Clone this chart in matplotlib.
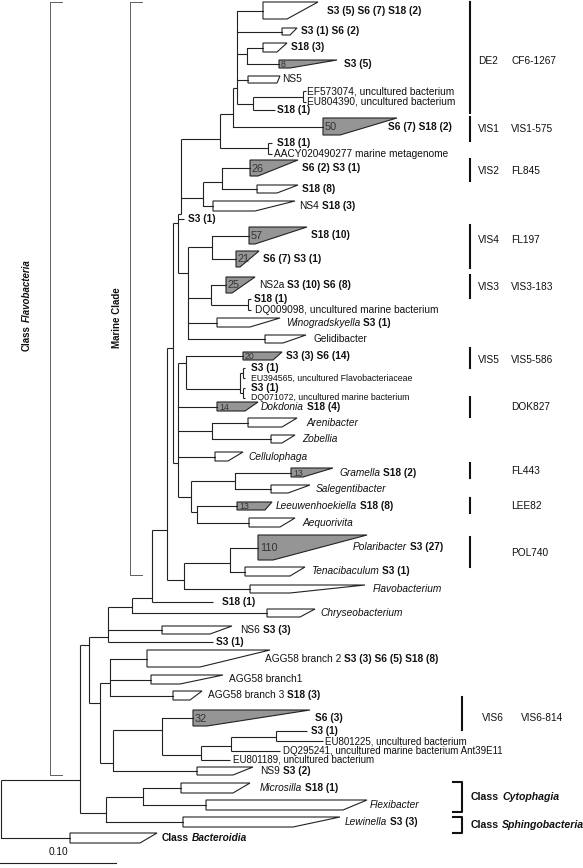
import matplotlib
matplotlib.use('Agg')
import matplotlib.pyplot as plt
from matplotlib.collections import LineCollection
from matplotlib.patches import Polygon
from collections import defaultdict

plt.rcParams['font.family'] = ['Liberation Sans', 'DejaVu Sans']

# --- tree data (depth in px from root, 116 px = 0.10 substitutions/site) ---
# internal nodes: name, parent, depth, stem y
inner_nodes = [
    ("root", None, 1, 780), ("IN", "root", 80, 780),
    ("FL", "IN", 89, 645), ("CS", "IN", 106, 813), ("n143", "CS", 143, 797),
    ("n108", "FL", 108, 637), ("n100", "FL", 100, 703),
    ("n132", "n108", 132, 607), ("n152", "n132", 152, 598),
    ("n167", "n152", 167, 530), ("n173", "n167", 173, 348),
    ("n184", "n167", 184, 580), ("n230", "n184", 230, 563),
    ("nX", "n173", 178, 223), ("nB", "n173", 178, 463),
    ("nA", "nX", 181, 214), ("nC", "nX", 188, 273),
    ("n220", "nA", 220, 139), ("n203", "nA", 203, 198),
    ("n234", "n220", 233, 114), ("n268", "n220", 268, 148),
    ("n237", "n234", 237, 88), ("n246", "n237", 247, 54),
    ("n253", "n237", 253, 104), ("n303", "n253", 303, 97),
    ("n222", "n203", 222, 182),
    ("n212", "nC", 212, 247), ("n211", "nC", 211, 298), ("n248", "n211", 248, 305),
    ("n186", "nB", 186, 363), ("n240", "n186", 240, 389),
    ("n240a", "n240", 243, 373), ("n240b", "n240", 243, 393),
    ("n212b", "nB", 212, 431), ("n191", "nB", 191, 497),
    ("n235", "n191", 235, 481), ("n197", "n191", 197, 512),
    ("nAGG", "n100", 110, 683), ("n113", "n100", 113, 763),
    ("n162", "n113", 162, 730), ("n201", "n162", 201, 755),
    ("n231", "n201", 231, 746), ("n276", "n231", 276, 737),
]

# single sequences: name, parent, tip depth, y, label, label x
tips = [
    ("S18a", "n253", 275, 110, "b:S18 (1)", 277),
    ("EF573074", "n303", 306, 91, "EF573074, uncultured bacterium", 307),
    ("EU804390", "n303", 306, 102, "EU804390, uncultured bacterium", 307),
    ("S18b", "n268", 272, 143, "b:S18 (1)", 277),
    ("AACY", "n268", 272, 154, "AACY020490277 marine metagenome", 274),
    ("S3a", "nX", 184, 219, "b:S3 (1)", 188),
    ("S18c", "n248", 251, 299, "b:S18 (1)", 254),
    ("DQ009098", "n248", 251, 310, "DQ009098, uncultured marine bacterium", 255),
    ("S3b", "n240a", 245, 368, "b:S3 (1)", 251),
    ("EU394565", "n240a", 245, 378, "EU394565, uncultured Flavobacteriaceae", 251),
    ("S3c", "n240b", 245, 388, "b:S3 (1)", 251),
    ("DQ071072", "n240b", 245, 398, "DQ071072, uncultured marine bacterium", 251),
    ("S18d", "n152", 213, 602, "b:S18 (1)", 222),
    ("S3d", "n108", 213, 642, "b:S3 (1)", 216),
    ("S3e", "n276", 307, 731, "b:S3 (1)", 311),
    ("EU801225", "n276", 323, 741, "EU801225, uncultured bacterium", 325),
    ("DQ295241", "n231", 280, 751, "DQ295241, uncultured marine bacterium Ant39E11", 283),
    ("EU801189", "n201", 230, 760, "EU801189, uncultured bacterium", 233),
]
small_tips = ["EU394565", "DQ071072"]

# collapsed groups: name, parent, x0, y top, y bottom, longest, shortest, count (gray if set), label, label x
clades = [
    ("A1", "n237", 263, 2, 19, 318, 287, "", "b:S3 (5) S6 (7) S18 (2)", 327),
    ("B", "n237", 282, 28, 35, 297, 290, "", "b:S3 (1) S6 (2)", 301),
    ("C", "n246", 263, 43, 52, 287, 277, "", "b:S18 (3)", 291),
    ("D8", "n246", 279, 60, 68, 337, 290, "8", "b:S3 (5)", 344),
    ("NS5", "n237", 248, 76, 83, 280, 277, "", "NS5", 282),
    ("G50", "n234", 323, 118, 135, 397, 340, "50", "b:S6 (7) S18 (2)", 388),
    ("G26", "n222", 250, 160, 176, 298, 258, "26", "b:S6 (2) S3 (1)", 302),
    ("S18_8", "n222", 257, 185, 193, 298, 277, "", "b:S18 (8)", 302),
    ("NS4", "n203", 213, 201, 211, 295, 255, "", "NS4|b:S18 (3)", 299),
    ("G57", "n212", 249, 227, 244, 307, 255, "57", "b:S18 (10)", 311),
    ("G21", "n212", 236, 251, 267, 259, 240, "21", "b:S6 (7) S3 (1)", 263),
    ("G25", "n211", 226, 277, 293, 255, 232, "25", "NS2a|b:S3 (10) S6 (8)", 259),
    ("Wino", "nC", 217, 318, 327, 280, 250, "", "i:Winogradskyella|b:S3 (1)", 286),
    ("Geli", "nC", 265, 335, 343, 306, 283, "", "Gelidibacter", 313),
    ("G20", "n186", 243, 352, 360, 282, 273, "20", "b:S3 (3) S6 (14)", 286),
    ("G14", "nB", 217, 402, 411, 258, 245, "14", "i:Dokdonia|b:S18 (4)", 261),
    ("Aren", "n212b", 248, 418, 427, 297, 282, "", "i:Arenibacter", 306),
    ("Zobe", "n212b", 271, 435, 443, 295, 282, "", "i:Zobellia", 302),
    ("Cellu", "nB", 215, 452, 461, 243, 228, "", "i:Cellulophaga", 248),
    ("Gram", "n235", 291, 468, 477, 333, 303, "13", "i:Gramella|b:S18 (2)", 339),
    ("Sale", "n235", 271, 485, 493, 310, 288, "", "i:Salegentibacter", 316),
    ("Leeu", "n197", 237, 502, 510, 272, 265, "13", "i:Leeuwenhoekiella|b:S18 (8)", 276),
    ("Aequ", "n197", 249, 518, 527, 295, 280, "", "i:Aequorivita", 302),
    ("Polar", "n230", 258, 535, 560, 367, 273, "110", "i:Polaribacter|b:S3 (27)", 353),
    ("Tenac", "n230", 245, 567, 576, 305, 290, "", "i:Tenacibaculum|b:S3 (1)", 311),
    ("Flavob", "n184", 250, 585, 593, 365, 290, "", "i:Flavobacterium", 373),
    ("Chryse", "n132", 267, 609, 617, 315, 300, "", "i:Chryseobacterium", 320),
    ("NS6", "n108", 162, 626, 634, 232, 210, "", "NS6|b:S3 (3)", 240),
    ("AGG2", "nAGG", 147, 650, 667, 270, 200, "", "AGG58 branch 2|b:S3 (3) S6 (5) S18 (8)", 265),
    ("AGG1", "nAGG", 151, 675, 684, 223, 180, "", "AGG58 branch1", 229),
    ("AGG3", "nAGG", 173, 691, 700, 202, 190, "", "AGG58 branch 3|b:S18 (3)", 208),
    ("G32", "n162", 193, 710, 726, 310, 207, "32", "b:S6 (3)", 315),
    ("NS9", "n113", 197, 767, 775, 253, 233, "", "NS9|b:S3 (2)", 260),
    ("Micro", "n143", 181, 783, 793, 250, 233, "", "i:Microsilla|b:S18 (1)", 260),
    ("Flexi", "n143", 206, 800, 810, 367, 343, "", "i:Flexibacter", 370),
    ("Lewi", "CS", 183, 817, 827, 340, 293, "", "i:Lewinella|b:S3 (3)", 345),
    ("Bact", "root", 70, 833, 843, 157, 140, "", "b:Class|bi:Bacteroidia", 162),
]

# clusters marked on the right: short name, long name, bar top, bar bottom, label y
group_short = ["DE2", "VIS1", "VIS2", "VIS4", "VIS3", "VIS5", "", "", "", ""]
group_long = ["CF6-1267", "VIS1-575", "FL845", "FL197", "VIS3-183", "VIS5-586",
              "DOK827", "FL443", "LEE82", "POL740"]
group_top = [2, 117, 159, 225, 275, 348, 397, 463, 498, 537]
group_bot = [113, 141, 181, 268, 298, 368, 417, 478, 513, 567]
group_lab_y = [61, 129, 171, 240, 287, 360, 407, 471, 506, 553]

fig = plt.figure(figsize=(5.83, 8.68), dpi=100)
ax = fig.add_axes([0, 0, 1, 1])
ax.set_xlim(0, 583)
ax.set_ylim(868, 0)
ax.axis('off')
renderer = fig.canvas.get_renderer()

LINE = '#222222'
GRAY = '#959595'
FS = 7.3


def rich(x, y, spec, size=FS, rot=0, align='left', color='#111111'):
    """Draw text made of segments 'b:', 'i:', 'bi:' or plain, separated by '|'."""
    arts, widths = [], []
    for part in spec.split('|'):
        style, s = '', part
        for p in ('bi:', 'b:', 'i:'):
            if part.startswith(p):
                style, s = p[:-1], part[len(p):]
                break
        t = ax.text(0, 0, s, fontsize=size, color=color,
                    fontweight='bold' if 'b' in style else 'normal',
                    fontstyle='italic' if 'i' in style else 'normal',
                    ha='left', va='center', rotation=rot, rotation_mode='anchor')
        bb = t.get_window_extent(renderer)
        arts.append(t)
        widths.append(bb.height if rot else bb.width)
    gap = size * 100 / 72 * 0.28
    total = sum(widths) + gap * (len(widths) - 1)
    off = 0 if align == 'left' else -total / 2
    for t, w in zip(arts, widths):
        if rot:
            t.set_position((x, y - off))
        else:
            t.set_position((x + off, y))
        off += w + gap


# --- tree lines ---
pos = {n: (x, y) for n, p, x, y in inner_nodes}
child_y = defaultdict(list)
for n, p, x, y in inner_nodes:
    if p:
        child_y[p].append(y)
for t in tips:
    child_y[t[1]].append(t[3])
for c in clades:
    child_y[c[1]].append((c[3] + c[4]) / 2)

segs = []
for n, p, x, y in inner_nodes:
    ys = child_y[n] + ([y] if p else [])
    segs.append([(x, min(ys)), (x, max(ys))])
    if p:
        segs.append([(pos[p][0], y), (x, y)])
for n, p, x, y, lab, lx in tips:
    segs.append([(pos[p][0], y), (x, y)])
    rich(lx, y, lab, size=6.3 if n in small_tips else 7.0 if y > 725 else FS)

ax.add_collection(LineCollection(segs, colors=LINE, linewidths=0.8))

for n, p, x0, yt, yb, xl, xs, cnt, lab, lx in clades:
    ym = (yt + yb) / 2
    ax.plot([pos[p][0], x0], [ym, ym], color=LINE, lw=0.8)
    ax.add_patch(Polygon([(x0, yt), (xl, yt), (xs, yb), (x0, yb)], closed=True,
                         facecolor=GRAY if cnt else 'white', edgecolor=LINE, lw=0.8))
    if cnt:
        ax.text(x0 + 2, ym + 0.5, cnt, fontsize=7.8 if yb - yt >= 15 else 6.3,
                color='#333333', ha='left', va='center')
    rich(lx, ym, lab)

# --- class / clade brackets on the left ---
for bx, top, bot in [(50, 2, 775), (130, 2, 575)]:
    ax.plot([bx + 12, bx, bx, bx + 12], [top, top, bot, bot], color='#444444', lw=0.6)
rich(27, 305, "b:Class|bi:Flavobacteria", size=7, rot=90, align='center')
rich(117, 318, "b:Marine Clade", size=7, rot=90, align='center')

# --- cluster bars on the right ---
for s, l, t0, t1, ly in zip(group_short, group_long, group_top, group_bot, group_lab_y):
    ax.plot([470, 470], [t0, t1], color='#111111', lw=1.5)
    if s:
        ax.text(478, ly, s, fontsize=FS, color='#111111', va='center')
    ax.text(511, ly, l, fontsize=FS, color='#111111', va='center')

ax.plot([462, 462], [697, 730], color='#111111', lw=1.5)
ax.text(482, 718, "VIS6", fontsize=FS, color='#111111', va='center')
ax.text(521, 718, "VIS6-814", fontsize=FS, color='#111111', va='center')

for t0, t1, spec in [(782, 812, "b:Class|bi:Cytophagia"), (817, 833, "b:Class|bi:Sphingobacteria")]:
    ax.plot([453, 462, 462, 453], [t0, t0, t1, t1], color='#111111', lw=1.5)
    rich(471, (t0 + t1) / 2, spec, size=7.6)

# --- scale bar ---
ax.plot([0, 116], [863, 863], color=LINE, lw=0.8)
ax.text(58, 852, "0.10", fontsize=FS, color='#111111', ha='center', va='center')

fig.savefig('out.png', dpi=100, facecolor='white')
